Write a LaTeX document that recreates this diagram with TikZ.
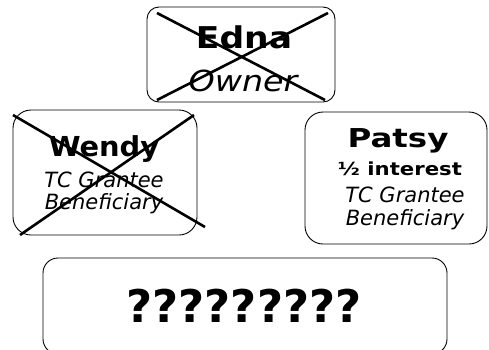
\documentclass[tikz,border=0pt]{standalone}
\usepackage{fontspec}
\setmainfont{DejaVu Sans}
\usetikzlibrary{calc}
\tikzset{
  box/.style={draw=black, line width=0.9pt, rounded corners=#1, inner sep=0pt, outer sep=0pt},
  box/.default=14pt,
  txt/.style={anchor=base, inner sep=0pt, outer sep=0pt, text=black},
  cross/.style={draw=black, line width=2.6pt}
}
\newcommand{\hs}[2]{\scalebox{#1}[1]{#2}}
\begin{document}
\begin{tikzpicture}[x=1pt,y=-1pt]
\useasboundingbox (0,0) rectangle (489,349);
% boxes
\node[box=12pt, minimum width=188pt, minimum height=95pt] (edna) at (241,54.5) {};
\node[box=18pt, minimum width=184pt, minimum height=125pt] (wendy) at (105,172.5) {};
\node[box=18pt, minimum width=182pt, minimum height=132pt] (patsy) at (396,178) {};
\node[box=15pt, minimum width=404pt, minimum height=96pt] (unknown) at (245,306) {};
% Edna texts
\node[txt, font=\fontsize{30}{30}\selectfont\bfseries] (ednaname) at (244,48) {\hs{1.15}{Edna}};
\node[txt, font=\fontsize{29}{29}\selectfont\itshape] (ednarole) at (243,91) {\hs{1.15}{Owner}};
% Wendy texts
\node[txt, font=\fontsize{27.5}{27.5}\selectfont\bfseries] (wendyname) at (104,156) {\hs{1.05}{Wendy}};
\node[txt, font=\fontsize{21}{21}\selectfont\itshape] (wendyr1) at (104,187) {TC Grantee};
\node[txt, font=\fontsize{21}{21}\selectfont\itshape] (wendyr2) at (104,209) {Beneficiary};
% Patsy texts
\node[txt, font=\fontsize{26}{26}\selectfont\bfseries] (patsyname) at (398,147) {\hs{1.25}{Patsy}};
\node[txt, font=\fontsize{18}{18}\selectfont\bfseries] (patsyint) at (400,175) {\hs{1.18}{½ interest}};
\node[txt, font=\fontsize{21}{21}\selectfont\itshape] (patsyr1) at (405,202) {TC Grantee};
\node[txt, font=\fontsize{21}{21}\selectfont\itshape] (patsyr2) at (405,225) {Beneficiary};
% bottom
\node[txt, font=\fontsize{45}{45}\selectfont\bfseries] (qs) at (244,322) {?????????};
% crosses
\coordinate (e1) at ($(edna.north west)+(10,6)$);
\coordinate (e2) at ($(edna.south east)+(-10,-2)$);
\coordinate (e3) at ($(edna.north east)+(-7,6)$);
\coordinate (e4) at ($(edna.south west)+(10,-2)$);
\draw[cross] (e1) -- (e2);
\draw[cross] (e3) -- (e4);
\coordinate (w1) at ($(wendy.north west)+(0,5)$);
\coordinate (w2) at ($(wendy.south east)+(8,-8)$);
\coordinate (w3) at ($(wendy.north east)+(-3,5)$);
\coordinate (w4) at ($(wendy.south west)+(7,0)$);
\draw[cross] (w1) -- (w2);
\draw[cross] (w3) -- (w4);
\end{tikzpicture}
\end{document}
